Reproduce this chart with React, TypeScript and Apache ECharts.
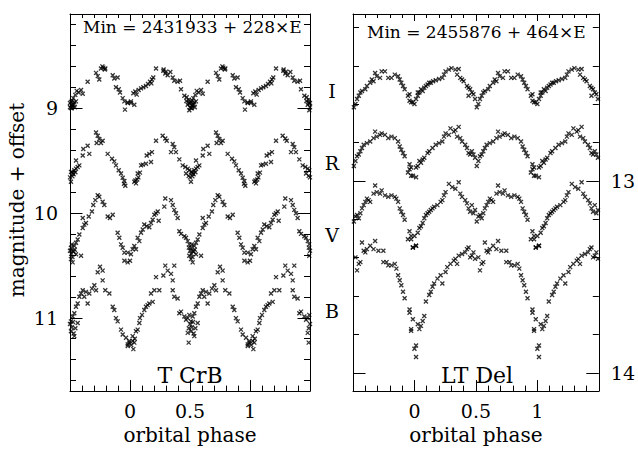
import React, { useEffect, useRef } from "react";
import * as echarts from "echarts";

const FONT = "DejaVu Serif";

// axis ticks / labels
const phaseMajor = [0, 0.5, 1];
const phaseMinor = [-0.4, -0.3, -0.2, -0.1, 0.1, 0.2, 0.3, 0.4, 0.6, 0.7, 0.8, 0.9, 1.1, 1.2, 1.3, 1.4];
const tcrbMajor = [9, 10, 11];
const tcrbMinor = [8.2, 8.4, 8.6, 8.8, 9.2, 9.4, 9.6, 9.8, 10.2, 10.4, 10.6, 10.8, 11.2, 11.4, 11.6];
const ltdelMajor = [13, 14];
const ltdelMinor = [12.2, 12.4, 12.6, 12.8, 13.2, 13.4, 13.6, 13.8];
const bandNames = ["I", "R", "V", "B"];

// T CrB: [phase, magnitude + offset]
const tcrbI = [[0.98,8.944],[0.008,8.934],[0.028,8.856],[0.044,8.84],[0.056,8.87],[0.072,8.825],[0.092,8.81],[0.111,8.8],[0.133,8.787],[0.15,8.768],[0.167,8.746],[0.183,8.725],[0.194,8.706],[0.178,8.762],[0.217,8.621],[0.278,8.643],[0.294,8.668],[0.314,8.684],[0.336,8.653],[0.356,8.706],[0.369,8.737],[0.397,8.746],[0.417,8.737],[0.425,8.818],[0.453,8.881],[0.472,8.894],[0.489,8.919],[0.5,8.95],[0.517,8.925],[0.528,8.903],[0.544,8.872],[0.556,8.834],[0.572,8.85],[0.592,8.825],[0.606,8.862],[0.508,8.997],[0.522,8.966],[0.494,9.019],[0.536,8.944],[0.481,8.966],[0.55,8.934],[0.49,8.95],[0.51,8.94],[0.52,8.98],[0.53,8.96],[0.5,8.99],[0.515,9.0],[0.54,8.99],[0.47,8.93],[0.647,8.746],[0.717,8.662],[0.731,8.693],[0.744,8.725],[0.758,8.621],[0.778,8.612],[0.794,8.621],[0.77,8.6],[0.79,8.63],[0.28,8.63],[0.3,8.65],[0.856,8.684],[0.869,8.715],[0.897,8.706],[0.883,8.8],[0.906,8.818],[0.917,8.85],[0.939,8.903],[0.953,8.934],[0.958,9.013],[0.981,8.95],[0.008,8.95],[0.036,8.966]];
const tcrbR = [[0.036,9.701],[0.05,9.717],[0.064,9.623],[0.083,9.614],[0.092,9.545],[0.106,9.538],[0.133,9.529],[0.175,9.513],[0.139,9.451],[0.161,9.435],[0.183,9.419],[0.217,9.31],[0.272,9.263],[0.294,9.288],[0.306,9.31],[0.356,9.341],[0.369,9.372],[0.342,9.419],[0.383,9.419],[0.411,9.488],[0.439,9.545],[0.461,9.56],[0.481,9.576],[0.494,9.592],[0.508,9.607],[0.522,9.623],[0.536,9.592],[0.55,9.576],[0.564,9.56],[0.578,9.545],[0.508,9.701],[0.489,9.645],[0.467,9.623],[0.52,9.65],[0.53,9.63],[0.5,9.66],[0.515,9.61],[0.545,9.61],[0.55,9.498],[0.606,9.451],[0.611,9.388],[0.647,9.357],[0.661,9.435],[0.717,9.232],[0.731,9.263],[0.744,9.294],[0.758,9.332],[0.772,9.31],[0.722,9.332],[0.814,9.435],[0.85,9.482],[0.869,9.507],[0.883,9.545],[0.906,9.592],[0.925,9.623],[0.939,9.664],[0.953,9.695],[0.961,9.739],[0.06,9.68],[0.07,9.66],[0.045,9.69],[0.95,9.72]];
const tcrbV = [[0.981,10.471],[0.008,10.393],[0.022,10.346],[0.036,10.315],[0.05,10.346],[0.064,10.236],[0.078,10.268],[0.092,10.189],[0.106,10.158],[0.119,10.11],[0.139,10.127],[0.161,10.136],[0.175,10.095],[0.189,10.064],[0.203,10.017],[0.217,10.002],[0.231,9.986],[0.239,10.073],[0.286,9.939],[0.294,9.861],[0.342,9.877],[0.356,9.923],[0.369,9.97],[0.383,10.002],[0.397,10.048],[0.411,10.174],[0.425,10.199],[0.453,10.221],[0.467,10.236],[0.481,10.268],[0.494,10.299],[0.508,10.331],[0.522,10.362],[0.536,10.315],[0.55,10.284],[0.564,10.252],[0.578,10.205],[0.606,10.143],[0.619,10.111],[0.633,10.095],[0.508,10.44],[0.522,10.471],[0.494,10.408],[0.55,10.393],[0.592,10.408],[0.5,10.36],[0.51,10.39],[0.52,10.42],[0.53,10.37],[0.54,10.35],[0.49,10.33],[0.515,10.3],[0.606,10.048],[0.656,10.033],[0.683,9.986],[0.694,9.923],[0.711,9.877],[0.731,9.83],[0.744,9.845],[0.772,9.892],[0.786,9.923],[0.814,10.033],[0.833,10.048],[0.856,10.017],[0.897,10.189],[0.911,10.236],[0.925,10.299],[0.939,10.331],[0.953,10.378],[0.981,10.378],[0.953,10.456],[0.0,10.456]];
const tcrbB = [[0.981,11.254],[0.994,11.222],[0.022,11.175],[0.036,11.237],[0.028,11.299],[0.05,11.128],[0.064,11.113],[0.078,11.05],[0.083,11.003],[0.1,10.972],[0.119,10.925],[0.133,10.894],[0.147,10.879],[0.161,10.863],[0.175,10.769],[0.189,10.848],[0.203,10.737],[0.217,10.612],[0.244,10.737],[0.278,10.597],[0.294,10.502],[0.314,10.55],[0.342,10.581],[0.356,10.643],[0.369,10.502],[0.356,10.737],[0.369,10.8],[0.397,10.816],[0.411,10.956],[0.425,10.941],[0.453,10.988],[0.467,11.019],[0.481,11.003],[0.494,10.972],[0.508,11.034],[0.522,10.988],[0.536,10.956],[0.55,10.894],[0.564,10.863],[0.578,10.8],[0.592,10.769],[0.606,10.737],[0.619,10.8],[0.633,10.753],[0.647,10.863],[0.481,11.144],[0.508,11.128],[0.536,11.175],[0.489,11.237],[0.564,11.05],[0.5,11.06],[0.515,11.09],[0.525,11.04],[0.49,11.1],[0.545,11.1],[0.53,11.15],[0.661,10.769],[0.683,10.722],[0.703,10.69],[0.717,10.737],[0.731,10.566],[0.75,10.513],[0.772,10.55],[0.772,10.643],[0.794,10.737],[0.828,10.769],[0.856,10.894],[0.869,10.925],[0.883,11.003],[0.897,11.034],[0.925,11.113],[0.939,11.159],[0.967,11.191],[0.994,11.237],[0.022,11.222],[0.981,11.269],[0.01,11.26],[0.04,11.2]];

// LT Del: [phase, magnitude + offset]
const ltdelI = [[0.96,12.548],[0.973,12.59],[0.0,12.599],[0.013,12.573],[0.027,12.556],[0.04,12.539],[0.053,12.522],[0.067,12.531],[0.08,12.514],[0.093,12.505],[0.107,12.497],[0.12,12.488],[0.133,12.488],[0.152,12.48],[0.173,12.475],[0.2,12.469],[0.227,12.463],[0.24,12.446],[0.253,12.429],[0.28,12.42],[0.301,12.412],[0.333,12.42],[0.36,12.417],[0.347,12.446],[0.373,12.463],[0.387,12.471],[0.4,12.48],[0.427,12.505],[0.44,12.514],[0.453,12.522],[0.44,12.556],[0.467,12.539],[0.48,12.548],[0.493,12.573],[0.507,12.616],[0.52,12.599],[0.533,12.573],[0.547,12.556],[0.56,12.539],[0.573,12.531],[0.6,12.522],[0.613,12.505],[0.64,12.488],[0.653,12.471],[0.667,12.48],[0.68,12.437],[0.693,12.454],[0.72,12.463],[0.733,12.429],[0.76,12.429],[0.787,12.463],[0.813,12.463],[0.84,12.446],[0.867,12.454],[0.88,12.471],[0.893,12.488],[0.907,12.505],[0.92,12.522],[0.947,12.556],[0.96,12.582],[0.987,12.59],[0.027,12.539]];
const ltdelR = [[0.96,12.913],[0.973,12.93],[0.987,12.973],[0.013,12.981],[0.027,12.922],[0.04,12.896],[0.053,12.905],[0.067,12.888],[0.08,12.879],[0.107,12.854],[0.12,12.845],[0.147,12.828],[0.173,12.811],[0.2,12.803],[0.227,12.794],[0.24,12.769],[0.253,12.752],[0.28,12.76],[0.293,12.726],[0.32,12.743],[0.333,12.735],[0.36,12.718],[0.347,12.769],[0.373,12.777],[0.387,12.794],[0.413,12.811],[0.427,12.828],[0.44,12.854],[0.453,12.862],[0.467,12.845],[0.48,12.862],[0.493,12.879],[0.507,12.922],[0.52,12.896],[0.533,12.871],[0.547,12.862],[0.56,12.845],[0.573,12.828],[0.587,12.811],[0.613,12.803],[0.64,12.794],[0.667,12.777],[0.68,12.743],[0.693,12.769],[0.72,12.76],[0.733,12.752],[0.76,12.76],[0.787,12.777],[0.813,12.769],[0.84,12.777],[0.867,12.794],[0.88,12.82],[0.893,12.837],[0.907,12.854],[0.92,12.871],[0.947,12.956],[0.96,12.939],[0.973,12.973],[0.013,12.93]];
const ltdelV = [[0.96,13.262],[0.973,13.304],[0.987,13.347],[0.013,13.338],[0.0,13.287],[0.027,13.27],[0.04,13.245],[0.053,13.236],[0.067,13.219],[0.08,13.194],[0.093,13.177],[0.107,13.168],[0.12,13.16],[0.133,13.151],[0.147,13.143],[0.16,13.134],[0.187,13.126],[0.213,13.109],[0.227,13.1],[0.24,13.075],[0.253,13.058],[0.28,13.015],[0.307,13.032],[0.333,13.041],[0.36,13.007],[0.373,13.066],[0.387,13.083],[0.413,13.1],[0.427,13.117],[0.44,13.143],[0.453,13.16],[0.467,13.126],[0.48,13.168],[0.493,13.151],[0.507,13.211],[0.52,13.185],[0.533,13.177],[0.547,13.194],[0.56,13.168],[0.573,13.143],[0.587,13.126],[0.6,13.109],[0.613,13.092],[0.627,13.1],[0.64,13.109],[0.667,13.066],[0.68,13.024],[0.693,13.058],[0.72,13.066],[0.733,13.049],[0.76,13.075],[0.787,13.083],[0.813,13.075],[0.84,13.083],[0.853,13.092],[0.867,13.109],[0.88,13.143],[0.893,13.16],[0.907,13.177],[0.92,13.202],[0.947,13.304],[0.973,13.287],[0.987,13.347],[0.013,13.338]];
const ltdelB = [[0.96,13.687],[0.973,13.781],[0.0,13.874],[0.013,13.917],[0.027,13.747],[0.04,13.772],[0.053,13.755],[0.067,13.73],[0.08,13.704],[0.093,13.628],[0.12,13.594],[0.133,13.577],[0.147,13.551],[0.16,13.534],[0.187,13.509],[0.213,13.491],[0.227,13.534],[0.253,13.474],[0.267,13.449],[0.293,13.432],[0.32,13.415],[0.333,13.406],[0.347,13.432],[0.36,13.389],[0.387,13.381],[0.413,13.372],[0.427,13.355],[0.44,13.347],[0.453,13.398],[0.467,13.389],[0.48,13.372],[0.493,13.406],[0.52,13.398],[0.533,13.466],[0.547,13.432],[0.56,13.423],[0.573,13.321],[0.587,13.364],[0.6,13.372],[0.613,13.355],[0.64,13.338],[0.667,13.355],[0.68,13.313],[0.707,13.364],[0.747,13.364],[0.747,13.423],[0.773,13.423],[0.787,13.44],[0.813,13.44],[0.84,13.432],[0.853,13.457],[0.867,13.491],[0.88,13.517],[0.893,13.543],[0.907,13.577],[0.92,13.611],[0.96,13.67],[0.987,13.721],[0.973,13.772],[0.013,13.857]];

// repeat each observation at phase-1 / phase / phase+1 inside the plotted phase window
function repeatPhase(points: number[][]) {
  const out: number[][] = [];
  for (const [p, m] of points) {
    for (const s of [-1, 0, 1]) {
      const q = p + s;
      if (q >= -0.5 && q <= 1.5) out.push([q, m]);
    }
  }
  return out;
}

const BLACK = "#000";
const NO_LINE = { show: false, onZero: false };
const FRAME = { show: true, onZero: false, lineStyle: { color: BLACK, width: 1 } };

function xAxes(gridIndex: number) {
  const base: any = {
    type: "value", gridIndex, min: -0.5, max: 1.5,
    splitLine: { show: false }, axisLabel: { show: false },
    axisTick: { show: false }, axisLine: NO_LINE,
  };
  return [
    {
      ...base, position: "bottom", axisLine: FRAME,
      axisTick: { show: true, inside: true, length: 11, customValues: phaseMajor, lineStyle: { color: BLACK } },
      axisLabel: { show: true, customValues: phaseMajor, formatter: (v: number) => String(v), margin: 10, color: BLACK, fontFamily: FONT, fontSize: 19 },
      name: "orbital phase", nameLocation: "middle", nameGap: 31,
      nameTextStyle: { color: BLACK, fontFamily: FONT, fontSize: 20 },
    },
    { ...base, position: "bottom", axisTick: { show: true, inside: true, length: 5.5, customValues: phaseMinor, lineStyle: { color: BLACK } } },
    { ...base, position: "top", axisLine: FRAME, axisTick: { show: true, inside: true, length: 7, customValues: phaseMajor, lineStyle: { color: BLACK } } },
    { ...base, position: "top", axisTick: { show: true, inside: true, length: 4, customValues: phaseMinor, lineStyle: { color: BLACK } } },
  ];
}

function yAxes(gridIndex: number, min: number, max: number, major: number[], minor: number[], labelSide: "left" | "right") {
  const base: any = {
    type: "value", gridIndex, min, max, inverse: true,
    splitLine: { show: false }, axisLabel: { show: false },
    axisTick: { show: false }, axisLine: NO_LINE,
  };
  const axes: any[] = [];
  for (const side of ["left", "right"]) {
    axes.push({
      ...base, position: side, axisLine: FRAME,
      axisTick: { show: true, inside: true, length: 12.5, customValues: major, lineStyle: { color: BLACK } },
      axisLabel: side === labelSide
        ? { show: true, customValues: major, formatter: (v: number) => String(v), margin: 12, color: BLACK, fontFamily: FONT, fontSize: 19 }
        : { show: false },
    });
    axes.push({ ...base, position: side, axisTick: { show: true, inside: true, length: 6, customValues: minor, lineStyle: { color: BLACK } } });
  }
  return axes;
}

const CROSS = "path://M0 0L10 10M10 0L0 10";

function scatter(name: string, data: number[][], axisIndex: number) {
  return {
    type: "scatter", name, data: repeatPhase(data),
    xAxisIndex: axisIndex, yAxisIndex: axisIndex,
    symbol: CROSS, symbolSize: 4,
    itemStyle: { color: BLACK, borderColor: BLACK, borderWidth: 1.3 },
    silent: true,
  };
}

function txt(text: string, x: number, y: number, size: number, align = "center", rotation = 0) {
  return {
    type: "text", x, y, rotation, silent: true,
    style: { text, fill: BLACK, fontFamily: FONT, fontSize: size, align, verticalAlign: "middle" },
  };
}

export default function App() {
  const ref = useRef<HTMLDivElement>(null);
  useEffect(() => {
    if (!ref.current) return;
    const chart = echarts.init(ref.current, undefined, { renderer: "svg" });
    const bandY = [91, 163, 235, 311];
    chart.setOption({
      animation: false,
      backgroundColor: "#fff",
      grid: [
        { left: 70, top: 14, width: 240, height: 383 },
        { left: 353, top: 14, width: 250, height: 383 },
      ],
      xAxis: [...xAxes(0), ...xAxes(1)],
      yAxis: [
        ...yAxes(0, 8.1, 11.7, tcrbMajor, tcrbMinor, "left"),
        ...yAxes(1, 12.13, 14.095, ltdelMajor, ltdelMinor, "right"),
      ],
      series: [
        scatter("T CrB I", tcrbI, 0),
        scatter("T CrB R", tcrbR, 0),
        scatter("T CrB V", tcrbV, 0),
        scatter("T CrB B", tcrbB, 0),
        scatter("LT Del I", ltdelI, 4),
        scatter("LT Del R", ltdelR, 4),
        scatter("LT Del V", ltdelV, 4),
        scatter("LT Del B", ltdelB, 4),
      ],
      graphic: [
        txt("magnitude + offset", 17, 200, 20, "center", Math.PI / 2),
        txt("Min = 2431933 + 228×E", 83, 26.5, 17, "left"),
        txt("Min = 2455876 + 464×E", 367, 32, 17, "left"),
        txt("T CrB", 190, 375, 22),
        txt("LT Del", 477, 375, 22),
        ...bandNames.map((b, i) => txt(b, 332, bandY[i], 19)),
      ],
    });
    return () => chart.dispose();
  }, []);
  return <div ref={ref} style={{ position: "absolute", left: 0, top: 0, width: 638, height: 450 }} />;
}
